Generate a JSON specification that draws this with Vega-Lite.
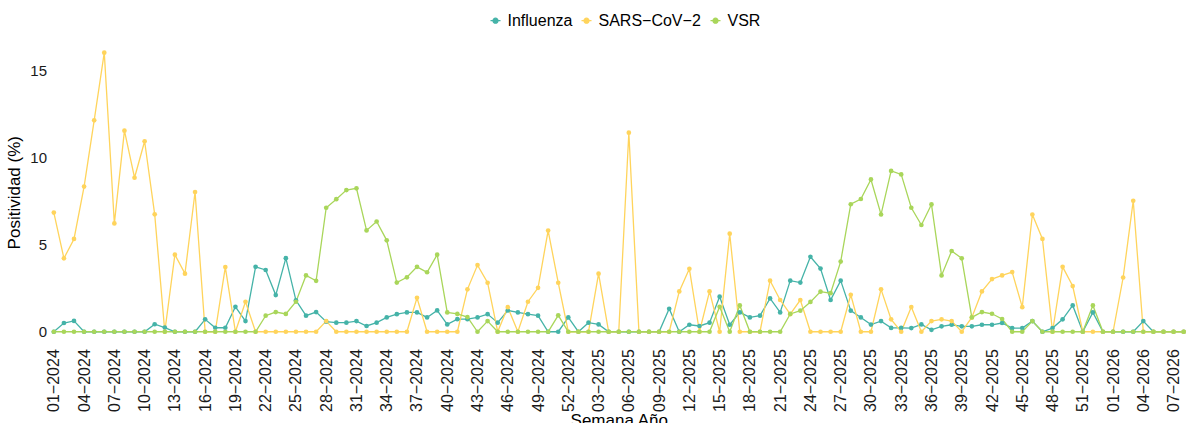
{
  "$schema": "https://vega.github.io/schema/vega-lite/v6.json",
  "width": 1136.5,
  "height": 307,
  "autosize": {"type": "none"},
  "padding": {"left": 50.5, "top": 38.7, "right": 0, "bottom": 77.3},
  "background": "white",
  "config": {
    "view": {"stroke": null},
    "font": "Liberation Sans",
    "axis": {"grid": false, "domain": false, "ticks": false, "labelColor": "#1a1a1a", "titleColor": "black", "titleFontWeight": "normal"}
  },
  "data": {"values": [
{"w":"01−2024","s":"Influenza","p":0},{"w":"02−2024","s":"Influenza","p":0.5},{"w":"03−2024","s":"Influenza","p":0.62},{"w":"04−2024","s":"Influenza","p":0},{"w":"05−2024","s":"Influenza","p":0},{"w":"06−2024","s":"Influenza","p":0},{"w":"07−2024","s":"Influenza","p":0},{"w":"08−2024","s":"Influenza","p":0},{"w":"09−2024","s":"Influenza","p":0},{"w":"10−2024","s":"Influenza","p":0},
{"w":"11−2024","s":"Influenza","p":0.43},{"w":"12−2024","s":"Influenza","p":0.24},{"w":"13−2024","s":"Influenza","p":0},{"w":"14−2024","s":"Influenza","p":0},{"w":"15−2024","s":"Influenza","p":0},{"w":"16−2024","s":"Influenza","p":0.71},{"w":"17−2024","s":"Influenza","p":0.23},{"w":"18−2024","s":"Influenza","p":0.23},{"w":"19−2024","s":"Influenza","p":1.43},{"w":"20−2024","s":"Influenza","p":0.61},
{"w":"21−2024","s":"Influenza","p":3.72},{"w":"22−2024","s":"Influenza","p":3.54},{"w":"23−2024","s":"Influenza","p":2.1},{"w":"24−2024","s":"Influenza","p":4.22},{"w":"25−2024","s":"Influenza","p":1.8},{"w":"26−2024","s":"Influenza","p":0.92},{"w":"27−2024","s":"Influenza","p":1.13},{"w":"28−2024","s":"Influenza","p":0.58},{"w":"29−2024","s":"Influenza","p":0.52},{"w":"30−2024","s":"Influenza","p":0.52},
{"w":"31−2024","s":"Influenza","p":0.61},{"w":"32−2024","s":"Influenza","p":0.33},{"w":"33−2024","s":"Influenza","p":0.52},{"w":"34−2024","s":"Influenza","p":0.82},{"w":"35−2024","s":"Influenza","p":1.01},{"w":"36−2024","s":"Influenza","p":1.11},{"w":"37−2024","s":"Influenza","p":1.11},{"w":"38−2024","s":"Influenza","p":0.82},{"w":"39−2024","s":"Influenza","p":1.22},{"w":"40−2024","s":"Influenza","p":0.42},
{"w":"41−2024","s":"Influenza","p":0.72},{"w":"42−2024","s":"Influenza","p":0.72},{"w":"43−2024","s":"Influenza","p":0.82},{"w":"44−2024","s":"Influenza","p":1.01},{"w":"45−2024","s":"Influenza","p":0.52},{"w":"46−2024","s":"Influenza","p":1.22},{"w":"47−2024","s":"Influenza","p":1.11},{"w":"48−2024","s":"Influenza","p":1.01},{"w":"49−2024","s":"Influenza","p":0.92},{"w":"50−2024","s":"Influenza","p":0},
{"w":"51−2024","s":"Influenza","p":0},{"w":"52−2024","s":"Influenza","p":0.82},
{"w":"01−2025","s":"Influenza","p":0},{"w":"02−2025","s":"Influenza","p":0.52},{"w":"03−2025","s":"Influenza","p":0.42},{"w":"04−2025","s":"Influenza","p":0},{"w":"05−2025","s":"Influenza","p":0},{"w":"06−2025","s":"Influenza","p":0},{"w":"07−2025","s":"Influenza","p":0},{"w":"08−2025","s":"Influenza","p":0},{"w":"09−2025","s":"Influenza","p":0},{"w":"10−2025","s":"Influenza","p":1.32},
{"w":"11−2025","s":"Influenza","p":0},{"w":"12−2025","s":"Influenza","p":0.4},{"w":"13−2025","s":"Influenza","p":0.33},{"w":"14−2025","s":"Influenza","p":0.52},{"w":"15−2025","s":"Influenza","p":2.01},{"w":"16−2025","s":"Influenza","p":0.4},{"w":"17−2025","s":"Influenza","p":1.11},{"w":"18−2025","s":"Influenza","p":0.82},{"w":"19−2025","s":"Influenza","p":0.92},{"w":"20−2025","s":"Influenza","p":1.91},
{"w":"21−2025","s":"Influenza","p":1.11},{"w":"22−2025","s":"Influenza","p":2.93},{"w":"23−2025","s":"Influenza","p":2.82},{"w":"24−2025","s":"Influenza","p":4.3},{"w":"25−2025","s":"Influenza","p":3.62},{"w":"26−2025","s":"Influenza","p":1.82},{"w":"27−2025","s":"Influenza","p":2.93},{"w":"28−2025","s":"Influenza","p":1.21},{"w":"29−2025","s":"Influenza","p":0.82},{"w":"30−2025","s":"Influenza","p":0.41},
{"w":"31−2025","s":"Influenza","p":0.61},{"w":"32−2025","s":"Influenza","p":0.22},{"w":"33−2025","s":"Influenza","p":0.22},{"w":"34−2025","s":"Influenza","p":0.21},{"w":"35−2025","s":"Influenza","p":0.42},{"w":"36−2025","s":"Influenza","p":0.11},{"w":"37−2025","s":"Influenza","p":0.31},{"w":"38−2025","s":"Influenza","p":0.4},{"w":"39−2025","s":"Influenza","p":0.31},{"w":"40−2025","s":"Influenza","p":0.31},
{"w":"41−2025","s":"Influenza","p":0.4},{"w":"42−2025","s":"Influenza","p":0.4},{"w":"43−2025","s":"Influenza","p":0.5},{"w":"44−2025","s":"Influenza","p":0.21},{"w":"45−2025","s":"Influenza","p":0.21},{"w":"46−2025","s":"Influenza","p":0.61},{"w":"47−2025","s":"Influenza","p":0},{"w":"48−2025","s":"Influenza","p":0.21},{"w":"49−2025","s":"Influenza","p":0.71},{"w":"50−2025","s":"Influenza","p":1.51},
{"w":"51−2025","s":"Influenza","p":0},{"w":"52−2025","s":"Influenza","p":1.11},{"w":"53−2025","s":"Influenza","p":0},
{"w":"01−2026","s":"Influenza","p":0},{"w":"02−2026","s":"Influenza","p":0},{"w":"03−2026","s":"Influenza","p":0},{"w":"04−2026","s":"Influenza","p":0.61},{"w":"05−2026","s":"Influenza","p":0},{"w":"06−2026","s":"Influenza","p":0},{"w":"07−2026","s":"Influenza","p":0},{"w":"08−2026","s":"Influenza","p":0},

{"w":"01−2024","s":"SARS−CoV−2","p":6.83},{"w":"02−2024","s":"SARS−CoV−2","p":4.21},{"w":"03−2024","s":"SARS−CoV−2","p":5.32},{"w":"04−2024","s":"SARS−CoV−2","p":8.32},{"w":"05−2024","s":"SARS−CoV−2","p":12.12},{"w":"06−2024","s":"SARS−CoV−2","p":16.0},{"w":"07−2024","s":"SARS−CoV−2","p":6.21},{"w":"08−2024","s":"SARS−CoV−2","p":11.53},{"w":"09−2024","s":"SARS−CoV−2","p":8.83},{"w":"10−2024","s":"SARS−CoV−2","p":10.92},
{"w":"11−2024","s":"SARS−CoV−2","p":6.73},{"w":"12−2024","s":"SARS−CoV−2","p":0},{"w":"13−2024","s":"SARS−CoV−2","p":4.42},{"w":"14−2024","s":"SARS−CoV−2","p":3.33},{"w":"15−2024","s":"SARS−CoV−2","p":8.01},{"w":"16−2024","s":"SARS−CoV−2","p":0},{"w":"17−2024","s":"SARS−CoV−2","p":0},{"w":"18−2024","s":"SARS−CoV−2","p":3.71},{"w":"19−2024","s":"SARS−CoV−2","p":0},{"w":"20−2024","s":"SARS−CoV−2","p":1.72},
{"w":"21−2024","s":"SARS−CoV−2","p":0},{"w":"22−2024","s":"SARS−CoV−2","p":0},{"w":"23−2024","s":"SARS−CoV−2","p":0},{"w":"24−2024","s":"SARS−CoV−2","p":0},{"w":"25−2024","s":"SARS−CoV−2","p":0},{"w":"26−2024","s":"SARS−CoV−2","p":0},{"w":"27−2024","s":"SARS−CoV−2","p":0},{"w":"28−2024","s":"SARS−CoV−2","p":0.61},{"w":"29−2024","s":"SARS−CoV−2","p":0},{"w":"30−2024","s":"SARS−CoV−2","p":0},
{"w":"31−2024","s":"SARS−CoV−2","p":0},{"w":"32−2024","s":"SARS−CoV−2","p":0},{"w":"33−2024","s":"SARS−CoV−2","p":0},{"w":"34−2024","s":"SARS−CoV−2","p":0},{"w":"35−2024","s":"SARS−CoV−2","p":0},{"w":"36−2024","s":"SARS−CoV−2","p":0},{"w":"37−2024","s":"SARS−CoV−2","p":1.95},{"w":"38−2024","s":"SARS−CoV−2","p":0},{"w":"39−2024","s":"SARS−CoV−2","p":0},{"w":"40−2024","s":"SARS−CoV−2","p":0},
{"w":"41−2024","s":"SARS−CoV−2","p":0},{"w":"42−2024","s":"SARS−CoV−2","p":2.43},{"w":"43−2024","s":"SARS−CoV−2","p":3.82},{"w":"44−2024","s":"SARS−CoV−2","p":2.81},{"w":"45−2024","s":"SARS−CoV−2","p":0},{"w":"46−2024","s":"SARS−CoV−2","p":1.41},{"w":"47−2024","s":"SARS−CoV−2","p":0},{"w":"48−2024","s":"SARS−CoV−2","p":1.72},{"w":"49−2024","s":"SARS−CoV−2","p":2.52},{"w":"50−2024","s":"SARS−CoV−2","p":5.8},
{"w":"51−2024","s":"SARS−CoV−2","p":2.81},{"w":"52−2024","s":"SARS−CoV−2","p":0},
{"w":"01−2025","s":"SARS−CoV−2","p":0},{"w":"02−2025","s":"SARS−CoV−2","p":0},{"w":"03−2025","s":"SARS−CoV−2","p":3.33},{"w":"04−2025","s":"SARS−CoV−2","p":0},{"w":"05−2025","s":"SARS−CoV−2","p":0},{"w":"06−2025","s":"SARS−CoV−2","p":11.41},{"w":"07−2025","s":"SARS−CoV−2","p":0},{"w":"08−2025","s":"SARS−CoV−2","p":0},{"w":"09−2025","s":"SARS−CoV−2","p":0},{"w":"10−2025","s":"SARS−CoV−2","p":0},
{"w":"11−2025","s":"SARS−CoV−2","p":2.31},{"w":"12−2025","s":"SARS−CoV−2","p":3.61},{"w":"13−2025","s":"SARS−CoV−2","p":0},{"w":"14−2025","s":"SARS−CoV−2","p":2.31},{"w":"15−2025","s":"SARS−CoV−2","p":0},{"w":"16−2025","s":"SARS−CoV−2","p":5.62},{"w":"17−2025","s":"SARS−CoV−2","p":0},{"w":"18−2025","s":"SARS−CoV−2","p":0},{"w":"19−2025","s":"SARS−CoV−2","p":0},{"w":"20−2025","s":"SARS−CoV−2","p":2.93},
{"w":"21−2025","s":"SARS−CoV−2","p":1.82},{"w":"22−2025","s":"SARS−CoV−2","p":1.01},{"w":"23−2025","s":"SARS−CoV−2","p":1.82},{"w":"24−2025","s":"SARS−CoV−2","p":0},{"w":"25−2025","s":"SARS−CoV−2","p":0},{"w":"26−2025","s":"SARS−CoV−2","p":0},{"w":"27−2025","s":"SARS−CoV−2","p":0},{"w":"28−2025","s":"SARS−CoV−2","p":2.12},{"w":"29−2025","s":"SARS−CoV−2","p":0},{"w":"30−2025","s":"SARS−CoV−2","p":0},
{"w":"31−2025","s":"SARS−CoV−2","p":2.43},{"w":"32−2025","s":"SARS−CoV−2","p":0.71},{"w":"33−2025","s":"SARS−CoV−2","p":0},{"w":"34−2025","s":"SARS−CoV−2","p":1.42},{"w":"35−2025","s":"SARS−CoV−2","p":0},{"w":"36−2025","s":"SARS−CoV−2","p":0.61},{"w":"37−2025","s":"SARS−CoV−2","p":0.71},{"w":"38−2025","s":"SARS−CoV−2","p":0.61},{"w":"39−2025","s":"SARS−CoV−2","p":0},{"w":"40−2025","s":"SARS−CoV−2","p":0.82},
{"w":"41−2025","s":"SARS−CoV−2","p":2.31},{"w":"42−2025","s":"SARS−CoV−2","p":3.02},{"w":"43−2025","s":"SARS−CoV−2","p":3.23},{"w":"44−2025","s":"SARS−CoV−2","p":3.42},{"w":"45−2025","s":"SARS−CoV−2","p":1.41},{"w":"46−2025","s":"SARS−CoV−2","p":6.72},{"w":"47−2025","s":"SARS−CoV−2","p":5.32},{"w":"48−2025","s":"SARS−CoV−2","p":0},{"w":"49−2025","s":"SARS−CoV−2","p":3.72},{"w":"50−2025","s":"SARS−CoV−2","p":2.62},
{"w":"51−2025","s":"SARS−CoV−2","p":0},{"w":"52−2025","s":"SARS−CoV−2","p":0},{"w":"53−2025","s":"SARS−CoV−2","p":0},
{"w":"01−2026","s":"SARS−CoV−2","p":0},{"w":"02−2026","s":"SARS−CoV−2","p":3.11},{"w":"03−2026","s":"SARS−CoV−2","p":7.51},{"w":"04−2026","s":"SARS−CoV−2","p":0},{"w":"05−2026","s":"SARS−CoV−2","p":0},{"w":"06−2026","s":"SARS−CoV−2","p":0},{"w":"07−2026","s":"SARS−CoV−2","p":0},{"w":"08−2026","s":"SARS−CoV−2","p":0},

{"w":"01−2024","s":"VSR","p":0},{"w":"02−2024","s":"VSR","p":0},{"w":"03−2024","s":"VSR","p":0},{"w":"04−2024","s":"VSR","p":0},{"w":"05−2024","s":"VSR","p":0},{"w":"06−2024","s":"VSR","p":0},{"w":"07−2024","s":"VSR","p":0},{"w":"08−2024","s":"VSR","p":0},{"w":"09−2024","s":"VSR","p":0},{"w":"10−2024","s":"VSR","p":0},
{"w":"11−2024","s":"VSR","p":0},{"w":"12−2024","s":"VSR","p":0},{"w":"13−2024","s":"VSR","p":0},{"w":"14−2024","s":"VSR","p":0},{"w":"15−2024","s":"VSR","p":0},{"w":"16−2024","s":"VSR","p":0},{"w":"17−2024","s":"VSR","p":0},{"w":"18−2024","s":"VSR","p":0},{"w":"19−2024","s":"VSR","p":0},{"w":"20−2024","s":"VSR","p":0},
{"w":"21−2024","s":"VSR","p":0},{"w":"22−2024","s":"VSR","p":0.92},{"w":"23−2024","s":"VSR","p":1.13},{"w":"24−2024","s":"VSR","p":1.02},{"w":"25−2024","s":"VSR","p":1.72},{"w":"26−2024","s":"VSR","p":3.23},{"w":"27−2024","s":"VSR","p":2.92},{"w":"28−2024","s":"VSR","p":7.11},{"w":"29−2024","s":"VSR","p":7.6},{"w":"30−2024","s":"VSR","p":8.12},
{"w":"31−2024","s":"VSR","p":8.22},{"w":"32−2024","s":"VSR","p":5.81},{"w":"33−2024","s":"VSR","p":6.32},{"w":"34−2024","s":"VSR","p":5.24},{"w":"35−2024","s":"VSR","p":2.82},{"w":"36−2024","s":"VSR","p":3.12},{"w":"37−2024","s":"VSR","p":3.72},{"w":"38−2024","s":"VSR","p":3.41},{"w":"39−2024","s":"VSR","p":4.42},{"w":"40−2024","s":"VSR","p":1.11},
{"w":"41−2024","s":"VSR","p":1.02},{"w":"42−2024","s":"VSR","p":0.84},{"w":"43−2024","s":"VSR","p":0},{"w":"44−2024","s":"VSR","p":0.61},{"w":"45−2024","s":"VSR","p":0},{"w":"46−2024","s":"VSR","p":0},{"w":"47−2024","s":"VSR","p":0},{"w":"48−2024","s":"VSR","p":0},{"w":"49−2024","s":"VSR","p":0},{"w":"50−2024","s":"VSR","p":0},
{"w":"51−2024","s":"VSR","p":0.94},{"w":"52−2024","s":"VSR","p":0},
{"w":"01−2025","s":"VSR","p":0},{"w":"02−2025","s":"VSR","p":0},{"w":"03−2025","s":"VSR","p":0},{"w":"04−2025","s":"VSR","p":0},{"w":"05−2025","s":"VSR","p":0},{"w":"06−2025","s":"VSR","p":0},{"w":"07−2025","s":"VSR","p":0},{"w":"08−2025","s":"VSR","p":0},{"w":"09−2025","s":"VSR","p":0},{"w":"10−2025","s":"VSR","p":0},
{"w":"11−2025","s":"VSR","p":0},{"w":"12−2025","s":"VSR","p":0},{"w":"13−2025","s":"VSR","p":0},{"w":"14−2025","s":"VSR","p":0},{"w":"15−2025","s":"VSR","p":1.43},{"w":"16−2025","s":"VSR","p":0},{"w":"17−2025","s":"VSR","p":1.51},{"w":"18−2025","s":"VSR","p":0},{"w":"19−2025","s":"VSR","p":0},{"w":"20−2025","s":"VSR","p":0},
{"w":"21−2025","s":"VSR","p":0},{"w":"22−2025","s":"VSR","p":1.02},{"w":"23−2025","s":"VSR","p":1.21},{"w":"24−2025","s":"VSR","p":1.71},{"w":"25−2025","s":"VSR","p":2.3},{"w":"26−2025","s":"VSR","p":2.21},{"w":"27−2025","s":"VSR","p":4.02},{"w":"28−2025","s":"VSR","p":7.31},{"w":"29−2025","s":"VSR","p":7.61},{"w":"30−2025","s":"VSR","p":8.73},
{"w":"31−2025","s":"VSR","p":6.72},{"w":"32−2025","s":"VSR","p":9.22},{"w":"33−2025","s":"VSR","p":9.02},{"w":"34−2025","s":"VSR","p":7.11},{"w":"35−2025","s":"VSR","p":6.12},{"w":"36−2025","s":"VSR","p":7.3},{"w":"37−2025","s":"VSR","p":3.23},{"w":"38−2025","s":"VSR","p":4.63},{"w":"39−2025","s":"VSR","p":4.21},{"w":"40−2025","s":"VSR","p":0.82},
{"w":"41−2025","s":"VSR","p":1.13},{"w":"42−2025","s":"VSR","p":1.03},{"w":"43−2025","s":"VSR","p":0.73},{"w":"44−2025","s":"VSR","p":0},{"w":"45−2025","s":"VSR","p":0},{"w":"46−2025","s":"VSR","p":0.61},{"w":"47−2025","s":"VSR","p":0},{"w":"48−2025","s":"VSR","p":0},{"w":"49−2025","s":"VSR","p":0},{"w":"50−2025","s":"VSR","p":0},
{"w":"51−2025","s":"VSR","p":0},{"w":"52−2025","s":"VSR","p":1.51},{"w":"53−2025","s":"VSR","p":0},
{"w":"01−2026","s":"VSR","p":0},{"w":"02−2026","s":"VSR","p":0},{"w":"03−2026","s":"VSR","p":0},{"w":"04−2026","s":"VSR","p":0},{"w":"05−2026","s":"VSR","p":0},{"w":"06−2026","s":"VSR","p":0},{"w":"07−2026","s":"VSR","p":0},{"w":"08−2026","s":"VSR","p":0}
  ]},
  "encoding": {
    "x": {
      "field": "w", "type": "ordinal", "sort": null,
      "scale": {"type": "point", "padding": 0.33},
      "axis": {
        "values": ["01−2024","04−2024","07−2024","10−2024","13−2024","16−2024","19−2024","22−2024","25−2024","28−2024","31−2024","34−2024","37−2024","40−2024","43−2024","46−2024","49−2024","52−2024","03−2025","06−2025","09−2025","12−2025","15−2025","18−2025","21−2025","24−2025","27−2025","30−2025","33−2025","36−2025","39−2025","42−2025","45−2025","48−2025","51−2025","01−2026","04−2026","07−2026"],
        "labelAngle": -90, "labelFontSize": 16, "labelPadding": 3, "labelOverlap": false,
        "title": "Semana Año", "titleFontSize": 17, "titlePadding": 1
      }
    },
    "y": {
      "field": "p", "type": "quantitative",
      "scale": {"domain": [-0.8, 16.8], "nice": false, "zero": false},
      "axis": {"values": [0, 5, 10, 15], "title": "Positividad (%)", "labelFontSize": 15, "labelPadding": 4, "titleFontSize": 17, "titlePadding": 6}
    },
    "color": {
      "field": "s", "type": "nominal",
      "scale": {"domain": ["Influenza", "SARS−CoV−2", "VSR"], "range": ["#45b3a8", "#ffd45c", "#a9d65a"]},
      "legend": {
        "title": null, "orient": "none", "direction": "horizontal",
        "legendX": 437, "legendY": -26,
        "symbolType": "M-1,0H1M-0.5,0a0.5,0.5 0 1,0 1,0a0.5,0.5 0 1,0 -1,0Z",
        "symbolSize": 100, "symbolStrokeWidth": 1.2, "symbolOpacity": 1,
        "labelFontSize": 16, "labelOffset": 4, "columnPadding": 6, "labelColor": "black"
      }
    }
  },
  "layer": [
    {"mark": {"type": "line", "strokeWidth": 1.3}},
    {"mark": {"type": "circle", "size": 22, "opacity": 1}}
  ]
}
